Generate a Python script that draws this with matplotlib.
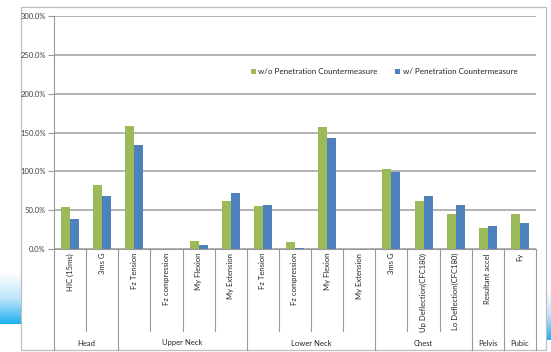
import numpy as np
import matplotlib.pyplot as plt
from matplotlib.colors import LinearSegmentedColormap
from matplotlib.patches import Rectangle
import matplotlib.transforms as mtransforms

plt.rcParams['font.family'] = ['Lato', 'DejaVu Sans']

# injury criteria, % of reference value
categories = ['HIC (15ms)', '3ms G',
              'Fz Tension', 'Fz compression', 'My Flexion', 'My Extension',
              'Fz Tension', 'Fz compression', 'My Flexion', 'My Extension',
              '3ms G', 'Up Deflection(CFC180)', 'Lo Deflection(CFC180)',
              'Resultant accel', 'Fy']
groups = ['Head', 'Upper Neck', 'Lower Neck', 'Chest', 'Pelvis', 'Pubic']
group_sizes = [2, 4, 4, 3, 1, 1]
without_cm = [53.5, 82.2, 157.8, 0.5, 10.9, 61.3, 55.6, 8.6, 156.5, 0.5,
              103.3, 62.3, 45.0, 27.3, 45.0]
with_cm = [38.3, 68.3, 134.3, 0.3, 5.2, 72.0, 56.5, 1.7, 143.1, 0.3,
           98.7, 68.4, 56.3, 29.0, 32.9]

W, H = 551, 352
fig = plt.figure(figsize=(W / 100, H / 100), dpi=100)
fig.patch.set_facecolor('white')

# background layer in pixel units: slide swooshes and chart frame
bg = fig.add_axes([0, 0, 1, 1])
bg.set_xlim(0, W)
bg.set_ylim(H, 0)
bg.axis('off')
swoosh = LinearSegmentedColormap.from_list('swoosh', ['#ffffff', '#bfe6fb', '#1fb0f0'])
grad = np.linspace(0, 1, 64)[:, None]
bg.imshow(grad, extent=(0, 21, 324, 272), cmap=swoosh, aspect='auto')
bg.imshow(grad, extent=(546, 551, 340, 290), cmap=swoosh, aspect='auto')
bg.set_xlim(0, W)
bg.set_ylim(H, 0)
bg.add_patch(Rectangle((21, 7), 525, 343, fill=False, ec='#bfbfbf', lw=0.9))

# plot area
x0, x1, y0, y1 = 54, 536, 249, 16
ax = fig.add_axes([x0 / W, 1 - y0 / H, (x1 - x0) / W, (y0 - y1) / H])
ax.patch.set_alpha(0)

x = np.arange(len(categories))
bw = 0.28
ax.bar(x - bw / 2, without_cm, bw, color='#9bbb59', label='w/o Penetration Countermeasure')
ax.bar(x + bw / 2, with_cm, bw, color='#4f81bd', label='w/ Penetration Countermeasure')

ax.set_xlim(-0.5, len(categories) - 0.5)
ax.set_ylim(0, 300)
ax.set_yticks(range(0, 301, 50))
ax.set_yticklabels([f'{v:.1f}%' for v in range(0, 301, 50)], fontsize=5.5, color='#404040')
ax.yaxis.grid(True, color='#a6a6a6', lw=1.2)
ax.set_axisbelow(True)
ax.tick_params(axis='y', direction='out', length=4, width=0.8, color='#999999', pad=2)
ax.set_xticks([])
for s in ['top', 'right']:
    ax.spines[s].set_visible(False)
for s in ['left', 'bottom']:
    ax.spines[s].set_color('#999999')
    ax.spines[s].set_linewidth(0.8)

# category axis below the plot
trans = mtransforms.blended_transform_factory(ax.transData, ax.transAxes)
inner_bottom = (y0 - 331) / (y0 - y1)
outer_bottom = (y0 - 350) / (y0 - y1)
label_top = (y0 - 253) / (y0 - y1)
group_y = (y0 - 343) / (y0 - y1)

for i, name in enumerate(categories):
    ax.text(i, label_top, name, transform=trans, rotation=90, ha='center', va='top',
            fontsize=5.5, color='#262626')

bounds = np.concatenate([[0], np.cumsum(group_sizes)])
for k in range(len(categories) + 1):
    edge = k - 0.5
    low = outer_bottom if k in bounds else inner_bottom
    ax.plot([edge, edge], [0, low], transform=trans, color='#999999', lw=0.8, clip_on=False)

for g, name in enumerate(groups):
    mid = (bounds[g] + bounds[g + 1] - 1) / 2
    ax.text(mid, group_y, name, transform=trans, ha='center', va='center',
            fontsize=5.5, color='#262626')

ax.legend(loc='center', bbox_to_anchor=(0.685, 0.76), ncol=2, frameon=False,
          fontsize=5.8, handlelength=0.6, handleheight=0.6, handletextpad=0.3,
          columnspacing=2.2, labelcolor='#262626')

fig.savefig('out.png', dpi=100)
